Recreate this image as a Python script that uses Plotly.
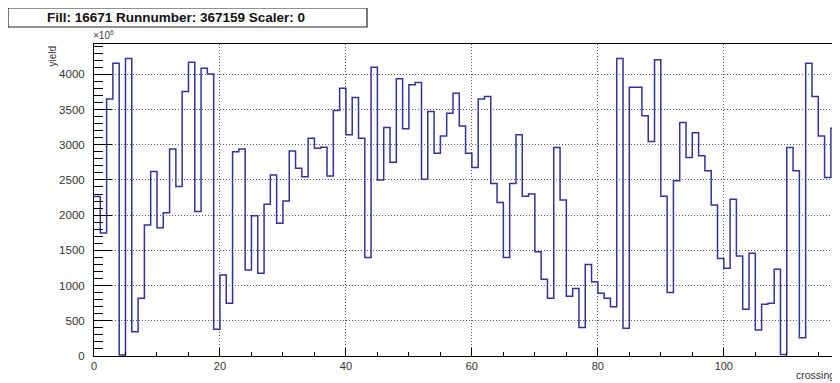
import plotly.graph_objects as go

crossings = list(range(119))
yield_vals = [
    2265, 1745, 3650, 4155, 15, 4225, 345, 820, 1860, 2620,
    1820, 2035, 2940, 2405, 3755, 4170, 2050, 4085, 4005, 380,
    1150, 750, 2900, 2940, 1220, 1990, 1175, 2155, 2570, 1885,
    2200, 2910, 2665, 2545, 3090, 2950, 2965, 2555, 3485, 3800,
    3140, 3670, 3090, 1400, 4100, 2500, 3245, 2750, 3935, 3225,
    3850, 3885, 2510, 3470, 2880, 3125, 3445, 3730, 3265, 2880,
    2675, 3650, 3685, 2450, 2180, 1400, 2450, 3140, 2270, 2300,
    1480, 1090, 820, 2960, 2215, 850, 960, 405, 1300, 1055,
    890, 820, 700, 4225, 395, 3815, 3815, 3410, 3045, 4205,
    2270, 900, 2490, 3315, 2820, 3170, 2845, 2630, 2145, 1385,
    1245, 2225, 1420, 665, 1460, 370, 735, 750, 1230, 20,
    2960, 2630, 260, 4155, 3685, 3125, 2535, 3235, 3410,
]
title_text = "Fill: 16671 Runnumber: 367159 Scaler: 0"
x_title = "crossing"
y_title = "yield"

xs = crossings + [crossings[-1] + 1]
ys = yield_vals + [yield_vals[-1]]

fig = go.Figure()
fig.add_trace(go.Scatter(
    x=xs, y=ys, mode="lines", line=dict(shape="hv", color="#333399", width=1.5),
    hoverinfo="skip", showlegend=False,
))

OFF = 8  # page body margin
W, H = 840 - OFF, 383 - OFF
L = 94 - OFF
T = 44 - OFF
B = H - (356 - OFF)
pw = W - L
ph = H - T - B

def px2x(px):
    return (px - OFF - L) / pw

def py2y(py):
    return (H - B - (py - OFF)) / ph

font = "Liberation Sans, Arial, sans-serif"

fig.update_layout(
    width=W, height=H,
    margin=dict(l=L, r=0, t=T, b=B),
    paper_bgcolor="white", plot_bgcolor="white",
    font=dict(family=font, size=11, color="#333333"),
    xaxis=dict(
        range=[0, 118.45], dtick=20, tick0=0,
        ticks="inside", ticklen=8, tickcolor="black", tickwidth=1,
        showline=True, linecolor="black", linewidth=1, mirror=True,
        showgrid=True, gridcolor="#555555", gridwidth=1, griddash="1px,2px",
        zeroline=False,
        minor=dict(dtick=5, ticks="inside", ticklen=4, tickcolor="black", showgrid=False),
        tickfont=dict(size=11, color="#333333"),
    ),
    yaxis=dict(
        range=[0, 4430], dtick=500, tick0=0,
        ticks="inside", ticklen=18, tickcolor="black", tickwidth=1,
        showline=True, linecolor="black", linewidth=1,
        showgrid=True, gridcolor="#555555", gridwidth=1, griddash="1px,2px",
        zeroline=False, ticklabelstandoff=6,
        minor=dict(dtick=100, ticks="inside", ticklen=9, tickcolor="black", showgrid=False),
        tickfont=dict(size=11.5, color="#333333"),
    ),
)

# title box
fig.add_shape(type="rect", xref="paper", yref="paper",
              x0=px2x(8), x1=px2x(367), y0=py2y(27), y1=py2y(8),
              line=dict(color="#222222", width=1.2), fillcolor="white")
fig.add_annotation(xref="paper", yref="paper", x=px2x(176), y=py2y(17),
                   text="<b>" + title_text + "</b>", showarrow=False,
                   xanchor="center", yanchor="middle",
                   font=dict(family=font, size=13.5, color="#111111"))
# x10^6
fig.add_annotation(xref="paper", yref="paper", x=px2x(91), y=py2y(43),
                   text="×10<sup>6</sup>", showarrow=False,
                   xanchor="left", yanchor="bottom",
                   font=dict(family=font, size=10, color="#444444"))
# y title
fig.add_annotation(xref="paper", yref="paper", x=px2x(52), y=py2y(44),
                   text=y_title, showarrow=False, textangle=-90,
                   xanchor="center", yanchor="top",
                   font=dict(family=font, size=10, color="#333333"))
# x title
fig.add_annotation(xref="paper", yref="paper", x=px2x(794), y=py2y(383),
                   text=x_title, showarrow=False,
                   xanchor="left", yanchor="bottom",
                   font=dict(family=font, size=10.5, color="#333333"))

fig.write_html("out.html")
